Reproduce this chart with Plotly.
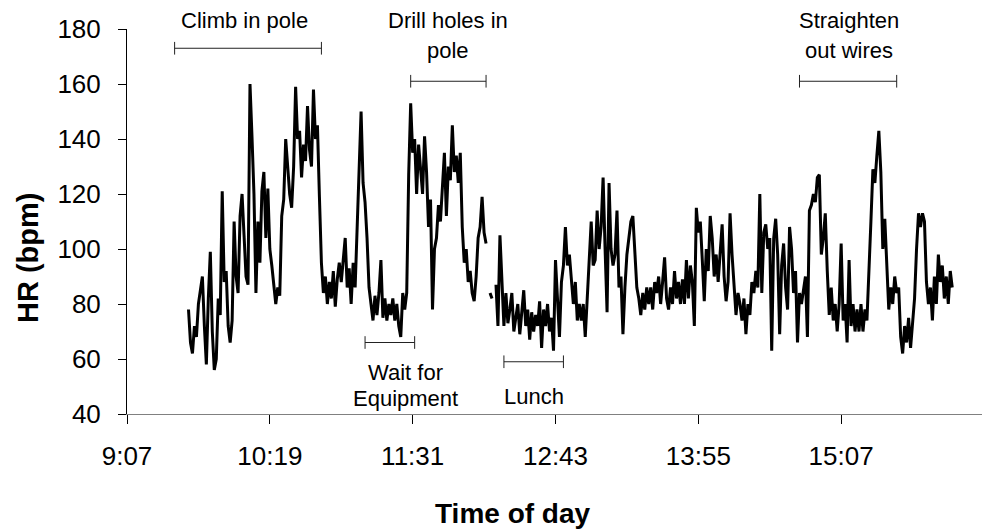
import plotly.graph_objects as go

# ---- data -------------------------------------------------------------
start_time = "9:38"          # first heart-rate sample
sample_minutes = 1           # sampling interval (min)

hr = [
    # 9:38 - 10:13
    78, 66, 62, 72, 68, 80, 85, 90, 72, 58, 82, 99, 70, 56, 60, 82, 76, 121,
    88, 92, 72, 66, 74, 110, 90, 84, 112, 120, 105, 90, 87, 160, 141, 120, 84, 110,
    # 10:14 - 10:53
    95, 121, 128, 104, 122, 100, 94, 88, 80, 86, 83, 112, 118, 140, 128, 120, 115,
    130, 159, 140, 143, 126, 138, 132, 152, 136, 130, 158, 140, 145, 119, 95, 84,
    90, 80, 88, 82, 92, 79, 89,
    # 10:54 - 11:34
    95, 88, 96, 104, 86, 93, 80, 95, 86, 110, 125, 150, 124, 117, 104, 86, 80, 74,
    83, 76, 84, 96, 75, 82, 74, 80, 76, 82, 74, 80, 72, 68, 84, 78, 84, 127, 153,
    135, 140, 120, 138,
    # 11:35 - 12:14
    130, 120, 141, 128, 108, 118, 78, 100, 104, 116, 110, 122, 135, 112, 130, 125,
    145, 128, 134, 124, 135, 108, 95, 100, 88, 92, 84, 81, 90, 104, 108, 119, 106,
    102, None, 84, 82, None, 87, 72,
    # 12:15 - 12:54
    105, 88, 72, 84, 73, 78, 84, 70, 76, 80, 69, 76, 85, 72, 78, 67, 77, 70, 76,
    72, 81, 64, 78, 72, 80, 70, 75, 63, 96, 82, 68, 88, 94, 108, 94, 98, 90, 80,
    88, 74,
    # 12:55 - 13:34
    80, 74, 80, 68, 82, 98, 110, 94, 96, 114, 100, 108, 126, 100, 77, 124, 100, 94,
    98, 114, 86, 90, 69, 86, 98, 104, 110, 112, 98, 86, 82, 76, 84, 78, 86, 80, 86,
    78, 88, 84,
    # 13:35 - 14:15
    90, 80, 88, 97, 82, 78, 86, 80, 92, 82, 88, 80, 89, 80, 96, 82, 94, 88, 72,
    115, 106, 110, 96, 81, 100, 92, 112, 104, 90, 98, 88, 98, 109, 90, 81, 88, 113,
    98, 86, 76, 84,
    # 14:16 - 14:55
    80, 74, 82, 69, 80, 76, 88, 84, 92, 86, 120, 84, 106, 109, 100, 104, 63, 104,
    111, 98, 69, 94, 102, 86, 78, 108, 100, 84, 92, 66, 84, 80, 86, 90, 68, 114,
    116, 120, 117, 126,
    # 14:56 - 15:35
    127, 98, 104, 113, 92, 76, 86, 74, 80, 70, 80, 102, 74, 80, 66, 96, 72, 80, 70,
    78, 70, 80, 70, 78, 74, 90, 110, 129, 124, 134, 143, 128, 100, 111, 92, 78, 86,
    80, 90, 84,
    # 15:36 - 16:03
    86, 68, 62, 72, 66, 75, 64, 72, 82, 100, 113, 108, 113, 110, 88, 80, 86, 74,
    90, 80, 98, 88, 94, 82, 90, 80, 92, 86,
]

tick_labels = ["9:07", "10:19", "11:31", "12:43", "13:55", "15:07"]
axis_start = "9:07"
axis_end = "16:18"

# activity periods: (label lines, start, end, HR level of the bracket)
event_labels = [["Climb in pole"], ["Drill holes in", "pole"],
                ["Straighten", "out wires"], ["Wait for", "Equipment"], ["Lunch"]]
event_start = ["9:31", "11:30", "14:46", "11:07", "12:17"]
event_end = ["10:45", "12:08", "15:35", "11:32", "12:47"]
event_level = [173, 161, 161, 66, 59]


def to_min(s):
    h, m = s.split(":")
    return int(h) * 60 + int(m)


t0 = to_min(start_time)
times = [t0 + k * sample_minutes for k in range(len(hr))]

FONT = "Arial, 'Liberation Sans', sans-serif"

# page body has an 8px margin: figure sized so that it fills the window
OFF = 8
W, H = 995 - OFF, 531 - OFF
# plot area in window pixels
L, R, T, B = 127, 982, 29, 414

fig = go.Figure()
fig.add_trace(go.Scatter(x=times, y=hr, mode="lines", connectgaps=False,
                         line=dict(color="black", width=3), hoverinfo="skip"))

# brackets
shapes = []
for s, e, lv in zip(event_start, event_end, event_level):
    a, b = to_min(s), to_min(e)
    shapes.append(dict(type="line", xref="x", yref="y", x0=a, x1=b, y0=lv, y1=lv,
                       line=dict(color="#222", width=1)))
    for xx in (a, b):
        shapes.append(dict(type="line", xref="x", yref="y", x0=xx, x1=xx,
                           y0=lv - 2.3, y1=lv + 2.3, line=dict(color="#222", width=1)))

# label text positions in window pixels (centre x, centre y per line)
label_px = [[(244, 20)], [(448, 20), (448, 50)], [(849, 20), (849, 50)],
            [(405, 372), (405, 398)], [(534, 396)]]
annotations = []
for lines, pos in zip(event_labels, label_px):
    for txt, (px, py) in zip(lines, pos):
        annotations.append(dict(text=txt, xref="paper", yref="paper",
                                x=(px - L) / (R - L), y=(B - py) / (B - T),
                                xanchor="center", yanchor="middle", showarrow=False,
                                font=dict(family=FONT, size=22, color="black")))

annotations.append(dict(text="<b>Time of day</b>", xref="paper", yref="paper",
                        x=(513 - L) / (R - L), y=(B - 513) / (B - T),
                        xanchor="center", yanchor="middle", showarrow=False,
                        font=dict(family=FONT, size=28, color="black")))
annotations.append(dict(text="<b>HR (bpm)</b>", xref="paper", yref="paper",
                        x=(28 - L) / (R - L), y=(B - 258) / (B - T), textangle=-90,
                        xanchor="center", yanchor="middle", showarrow=False,
                        font=dict(family=FONT, size=29, color="black")))

fig.update_layout(
    width=W, height=H,
    margin=dict(l=L - OFF, r=W - (R - OFF), t=T - OFF, b=H - (B - OFF), pad=0,
                autoexpand=False),
    paper_bgcolor="white", plot_bgcolor="white",
    showlegend=False, shapes=shapes, annotations=annotations,
    font=dict(family=FONT, color="black"),
    xaxis=dict(range=[to_min(axis_start), to_min(axis_end)],
               tickvals=[to_min(t) for t in tick_labels], ticktext=tick_labels,
               ticks="outside", ticklen=9, tickcolor="black",
               showline=True, linecolor="#808080", linewidth=1,
               showgrid=False, zeroline=False, ticklabelstandoff=10,
               tickfont=dict(family=FONT, size=26, color="black")),
    yaxis=dict(range=[40, 180], tickmode="linear", tick0=40, dtick=20,
               ticks="outside", ticklen=8, tickcolor="black",
               showline=True, linecolor="black", linewidth=1,
               showgrid=False, zeroline=False, ticklabelstandoff=12,
               tickfont=dict(family=FONT, size=26, color="black")),
)

fig.write_html("out.html")
